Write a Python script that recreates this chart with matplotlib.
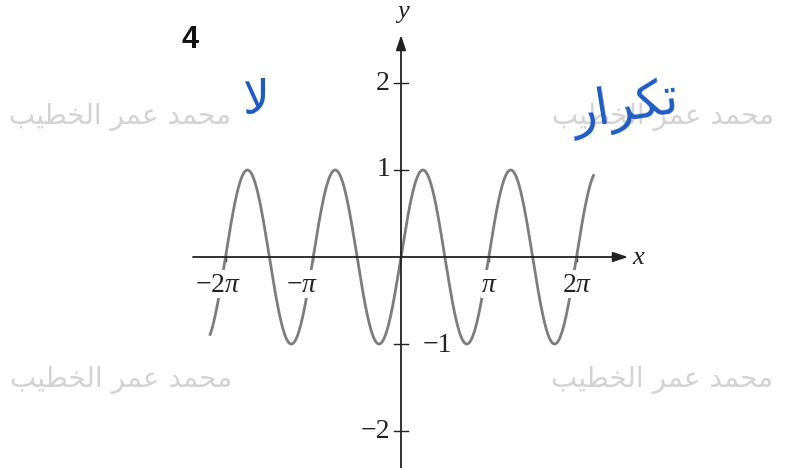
import numpy as np
import matplotlib
matplotlib.use("Agg")
import matplotlib.pyplot as plt

plt.rcParams["mathtext.fontset"] = "custom"
plt.rcParams["mathtext.rm"] = "Liberation Serif"
plt.rcParams["mathtext.it"] = "Liberation Serif:italic"

# curve: y = sin(2x) over a bit more than [-2pi, 2pi]
x_start, x_end = -2.18 * np.pi, 2.2 * np.pi
amplitude = 1.0
frequency = 2.0

x_ticks = [-2 * np.pi, -np.pi, np.pi, 2 * np.pi]
x_tick_labels = [r"$-2\pi$", r"$-\pi$", r"$\pi$", r"$2\pi$"]
y_ticks = [2, 1, -1, -2]
y_tick_labels = ["2", "1", "\u22121", "\u22122"]

# watermark and handwritten notes, pre-shaped Arabic (visual order)
def shape_rtl(forms):
    return "".join(chr(c) for c in reversed(forms))

watermark = shape_rtl([0xFEE3, 0xFEA4, 0xFEE4, 0xFEAA, 0x20,
                       0xFECB, 0xFEE4, 0xFEAE, 0x20,
                       0xFE8D, 0xFEDF, 0xFEA8, 0xFEC4, 0xFEF4, 0xFE90])
note_left = shape_rtl([0xFEFB])
note_right = shape_rtl([0xFE97, 0xFEDC, 0xFEAE, 0xFE8D, 0xFEAD])

fig = plt.figure(figsize=(7.89, 4.68), dpi=100)
ax = fig.add_axes([0, 0, 1, 1])
ax.set_axis_off()

px_per_rad = 87.75 / np.pi
px_per_y = 87.0
ax.set_xlim(-401 / px_per_rad, 388 / px_per_rad)
ax.set_ylim(-(468 - 257) / px_per_y, 257 / px_per_y)

# axes with arrow heads
ax.annotate("", xy=(227 / px_per_rad, 0), xytext=(-208 / px_per_rad, 0),
            arrowprops=dict(arrowstyle="-|>,head_length=0.9,head_width=0.3",
                            color="#222222", lw=1.3, shrinkA=0, shrinkB=0))
ax.annotate("", xy=(0, 222 / px_per_y), xytext=(0, -2.5),
            arrowprops=dict(arrowstyle="-|>,head_length=0.9,head_width=0.3",
                            color="#222222", lw=1.3, shrinkA=0, shrinkB=0))

for yt in y_ticks:
    ax.plot([-7 / px_per_rad, 7 / px_per_rad], [yt, yt], color="#222222", lw=1.0)
for xt in x_ticks:
    ax.plot([xt, xt], [-4 / px_per_y, 4 / px_per_y], color="#222222", lw=1.0)

x = np.linspace(x_start, x_end, 800)
ax.plot(x, amplitude * np.sin(frequency * x), color="#7d7d7d", lw=2.0,
        solid_capstyle="butt")

serif = "Liberation Serif"
label_dx = [-7, -11, 1, 1]
for xt, lab, dx in zip(x_ticks, x_tick_labels, label_dx):
    ax.text(xt + dx / px_per_rad, -27 / px_per_y, lab, fontsize=20,
            ha="center", va="center", color="#222222",
            bbox=dict(fc="white", ec="none", pad=0.3))

for yt, lab in zip(y_ticks, y_tick_labels):
    if yt == -1:
        ax.text(36 / px_per_rad, yt - 2 / px_per_y, lab, family=serif, fontsize=20,
                ha="center", va="center", color="#222222")
    else:
        ax.text(-11 / px_per_rad, yt, lab, family=serif, fontsize=20,
                ha="right", va="center", color="#222222")

ax.text(2 / px_per_rad, 245 / px_per_y, "y", family=serif, style="italic",
        fontsize=19, ha="center", va="center", color="#222222")
ax.text(237 / px_per_rad, -1 / px_per_y, "x", family=serif, style="italic",
        fontsize=19, ha="center", va="center", color="#222222")

ax.text(190 / 789, 1 - 40 / 468, "4", transform=fig.transFigure,
        family="Liberation Sans", weight="bold", fontsize=22,
        ha="center", va="center", color="#111111")

# faint watermark in the four quadrants
for cx, cy in [(120, 117), (663, 117), (121, 380), (662, 380)]:
    ax.text(cx / 789, 1 - cy / 468, watermark, transform=fig.transFigure,
            family="DejaVu Sans", fontsize=20, ha="center", va="center",
            color="#d3d3d3")

# handwritten notes in blue
ax.text(256 / 789, 1 - 102 / 468, note_left, transform=fig.transFigure,
        family="DejaVu Sans", fontsize=34, ha="center", va="center",
        color="#1f5bc4")
ax.text(625 / 789, 1 - 108 / 468, note_right, transform=fig.transFigure,
        family="DejaVu Sans", fontsize=36, ha="center", va="center",
        color="#1f5bc4", rotation=9)

fig.savefig("out.png", dpi=100)
